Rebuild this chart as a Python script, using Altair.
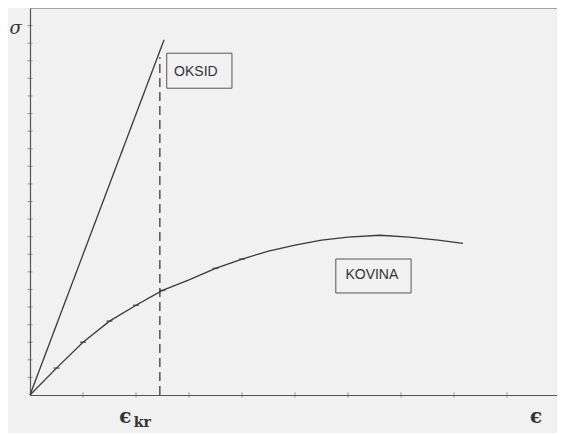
import altair as alt
import pandas as pd

# Metal (KOVINA) stress-strain curve
metal_x = [0, 0.5, 1.0, 1.5, 2.0, 2.5, 3.0, 3.5, 4.0, 4.5, 5.0, 5.5, 6.0, 6.6, 7.15, 7.7, 8.17]
metal_y = [0, 1.53, 3.0, 4.2, 5.1, 5.95, 6.55, 7.2, 7.73, 8.18, 8.52, 8.8, 8.98, 9.08, 8.98, 8.8, 8.62]
# small marks on the metal curve
mark_x = [0.5, 1.0, 1.5, 2.0, 2.5, 3.5, 4.0]
mark_y = [1.53, 3.0, 4.2, 5.1, 5.95, 7.2, 7.73]
# Oxide (OKSID) line
oxide_x = [0, 2.53]
oxide_y = [0, 20.2]
# critical strain
eps_kr = 2.45
eps_kr_top = 19.2
# axis minor ticks
x_ticks = [1, 2, 3, 4, 5, 6, 7, 8, 9]
y_ticks = list(range(1, 22))
# label boxes
box_names = ["OKSID", "KOVINA"]
box_x1 = [2.58, 5.77]
box_x2 = [3.81, 7.19]
box_y1 = [17.44, 5.8]
box_y2 = [19.43, 7.73]
box_tx = [3.13, 6.45]
box_ty = [18.38, 6.85]

XMAX = 9.943
YMAX = 22.0
INK = "#3a3a3a"

xs = alt.Scale(domain=[0, XMAX], nice=False, zero=False)
ys = alt.Scale(domain=[0, YMAX], nice=False, zero=False)
xa = alt.Axis(title=None, labels=False, ticks=False, grid=False, domainColor="#555", domainWidth=1.2)
ya = alt.Axis(title=None, labels=False, ticks=False, grid=False, domainColor="#555", domainWidth=1.2)

metal_df = pd.DataFrame({"x": metal_x, "y": metal_y})
marks_df = pd.DataFrame({"x": mark_x, "y": mark_y})
oxide_df = pd.DataFrame({"x": oxide_x, "y": oxide_y})
dash_df = pd.DataFrame({"x": [eps_kr, eps_kr], "y": [0, eps_kr_top]})
xt_df = pd.DataFrame({"x": x_ticks, "y": [0] * len(x_ticks)})
yt_df = pd.DataFrame({"x": [0] * len(y_ticks), "y": y_ticks})
box_df = pd.DataFrame({"name": box_names, "x1": box_x1, "x2": box_x2,
                       "y1": box_y1, "y2": box_y2, "tx": box_tx, "ty": box_ty})

metal = alt.Chart(metal_df).mark_line(color=INK, strokeWidth=1.3).encode(
    x=alt.X("x:Q", scale=xs, axis=xa),
    y=alt.Y("y:Q", scale=ys, axis=ya),
    order="x:Q",
)
metal_marks = alt.Chart(marks_df).mark_tick(orient="horizontal", size=6, thickness=1.5, color=INK).encode(
    x=alt.X("x:Q", scale=xs), y=alt.Y("y:Q", scale=ys)
)
oxide = alt.Chart(oxide_df).mark_line(color=INK, strokeWidth=1.3).encode(
    x=alt.X("x:Q", scale=xs), y=alt.Y("y:Q", scale=ys)
)
dashed = alt.Chart(dash_df).mark_line(color=INK, strokeWidth=1.3, strokeDash=[9, 5]).encode(
    x=alt.X("x:Q", scale=xs), y=alt.Y("y:Q", scale=ys)
)
xticks = alt.Chart(xt_df).mark_tick(orient="vertical", size=5, thickness=1, color="#666").encode(
    x=alt.X("x:Q", scale=xs), y=alt.Y("y:Q", scale=ys)
)
yticks = alt.Chart(yt_df).mark_tick(orient="horizontal", size=5, thickness=1, color="#666").encode(
    x=alt.X("x:Q", scale=xs), y=alt.Y("y:Q", scale=ys)
)
top_border = alt.Chart(pd.DataFrame({"a": [0]})).mark_rule(color="#555", strokeWidth=1.2).encode(
    x=alt.datum(0, scale=xs), x2=alt.datum(XMAX), y=alt.datum(YMAX, scale=ys)
)
boxes = alt.Chart(box_df).mark_rect(fillOpacity=0, stroke="#555", strokeWidth=1).encode(
    x=alt.X("x1:Q", scale=xs), x2="x2:Q", y=alt.Y("y1:Q", scale=ys), y2="y2:Q"
)
box_text = alt.Chart(box_df).mark_text(font="Liberation Sans", fontSize=14, color="#333").encode(
    x=alt.X("tx:Q", scale=xs), y=alt.Y("ty:Q", scale=ys), text="name:N"
)

lbl_df = pd.DataFrame({"t": ["σ"], "x": [-0.27], "y": [20.8]})
sigma = alt.Chart(lbl_df).mark_text(font="DejaVu Serif", fontSize=18, fontStyle="italic", color="#333").encode(
    x=alt.X("x:Q", scale=xs), y=alt.Y("y:Q", scale=ys), text="t:N"
)
eps_df = pd.DataFrame({"t": ["ϵ", "ϵ"], "x": [1.8, 9.55], "y": [-1.59, -1.59]})
eps = alt.Chart(eps_df).mark_text(font="DejaVu Serif", fontSize=20, fontWeight="bold",
                                  baseline="alphabetic", color="#333").encode(
    x=alt.X("x:Q", scale=xs), y=alt.Y("y:Q", scale=ys), text="t:N"
)
kr_df = pd.DataFrame({"t": ["kr"], "x": [2.12], "y": [-1.8]})
kr = alt.Chart(kr_df).mark_text(font="DejaVu Serif", fontSize=14, fontWeight="bold",
                                baseline="alphabetic", color="#333").encode(
    x=alt.X("x:Q", scale=xs), y=alt.Y("y:Q", scale=ys), text="t:N"
)

chart = alt.layer(
    metal, oxide, dashed, metal_marks, xticks, yticks, top_border, boxes, box_text, sigma, eps, kr
).properties(
    width=527, height=387,
    autosize=alt.AutoSizeParams(type="none"),
    padding={"left": 22, "top": 0, "right": 0, "bottom": 38},
    background="#f1f1f1",
).configure_view(stroke=None)

chart.save("out.html", embed_options={"renderer": "svg", "actions": False})
